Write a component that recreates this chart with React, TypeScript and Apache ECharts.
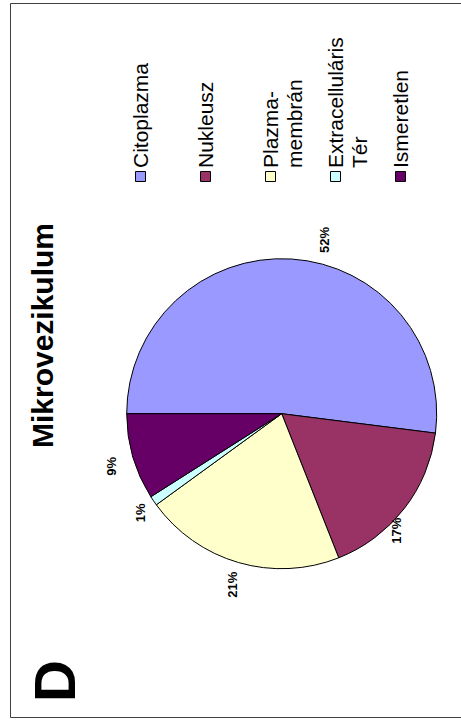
import { useEffect, useRef } from "react";
import * as echarts from "echarts";

const chartTitle = "Mikrovezikulum";
const panelLetter = "D";
const categories = ["Citoplazma", "Nukleusz", "Plazmamembrán", "Extracelluláris Tér", "Ismeretlen"];
const legendLabels = ["Citoplazma", "Nukleusz", "Plazma-\nmembrán", "Extracelluláris\nTér", "Ismeretlen"];
const values = [52, 17, 21, 1, 9];
const colors = ["#9999FF", "#993366", "#FFFFCC", "#CCFFFF", "#660066"];
// small screen-space label nudges (pixels) reproducing the original's label placement
const labelNudges: [number, number][] = [[32, 4], [-26, 8], [0, 0], [6, -1], [1, 3]];

const FONT = '"Liberation Sans", Arial, Helvetica, sans-serif';

export default function App() {
  const ref = useRef<HTMLDivElement>(null);
  useEffect(() => {
    if (!ref.current) return;
    const chart = echarts.init(ref.current, undefined, { renderer: "svg" });
    const data = categories.map((name, i) => ({ name, value: values[i], itemStyle: { color: colors[i] } }));
    const cx = 281.7;
    const cy = 413.7;
    const R = 155;

    const legendEls: any[] = [];
    categories.forEach((_, i) => {
      const x = 140.5 + i * 65;
      legendEls.push({
        type: "rect",
        shape: { x: x - 5, y: 171.5, width: 10, height: 10 },
        style: { fill: colors[i], stroke: "#000", lineWidth: 1 },
      });
      legendEls.push({
        type: "text",
        x: x - 12,
        y: 168,
        rotation: Math.PI / 2,
        style: {
          text: legendLabels[i],
          fontFamily: FONT,
          fontSize: 21,
          lineHeight: 24,
          fill: "#000",
          align: "left",
          verticalAlign: "top",
        },
      });
    });

    chart.setOption({
      animation: false,
      backgroundColor: "#fff",
      graphic: [
        {
          type: "rect",
          shape: { x: 10.5, y: 3.5, width: 470, height: 714 },
          style: { fill: "none", stroke: "#404040", lineWidth: 1 },
          z: 0,
        },
        {
          type: "text",
          x: 42.5,
          y: 335.5,
          rotation: Math.PI / 2,
          style: {
            text: chartTitle,
            fontFamily: FONT,
            fontSize: 30,
            fontWeight: "bold",
            fill: "#000",
            align: "center",
            verticalAlign: "middle",
          },
        },
        {
          type: "text",
          x: 54,
          y: 681,
          rotation: Math.PI / 2,
          style: {
            text: panelLetter,
            fontFamily: FONT,
            fontSize: 58,
            fontWeight: "bold",
            fill: "#000",
            align: "center",
            verticalAlign: "middle",
          },
        },
        ...legendEls,
      ],
      series: [
        {
          type: "pie",
          center: [cx, cy],
          radius: [0, R],
          startAngle: 180,
          clockwise: true,
          avoidLabelOverlap: false,
          label: { show: false },
          labelLine: { show: false },
          itemStyle: { borderColor: "#000", borderWidth: 1 },
          emphasis: { disabled: true },
          data,
        },
        {
          type: "pie",
          center: [cx, cy],
          radius: [0, 350],
          startAngle: 180,
          clockwise: true,
          silent: true,
          avoidLabelOverlap: false,
          itemStyle: { color: "transparent", borderWidth: 0 },
          labelLine: { show: false },
          label: {
            show: true,
            position: "inside",
            rotate: 90,
            fontFamily: FONT,
            fontSize: 13,
            fontWeight: "bold",
            color: "#000",
            formatter: (p: any) => `${Math.round(p.percent)}%`,
          },
          emphasis: { disabled: true },
          // label offset is applied in the label's rotated frame: convert screen nudge
          data: categories.map((name, i) => ({
            name,
            value: values[i],
            label: { offset: [-labelNudges[i][1], labelNudges[i][0]] },
          })),
        },
      ],
    });
    return () => chart.dispose();
  }, []);
  return <div ref={ref} style={{ position: "fixed", left: 0, top: 0, width: 461, height: 722 }} />;
}
